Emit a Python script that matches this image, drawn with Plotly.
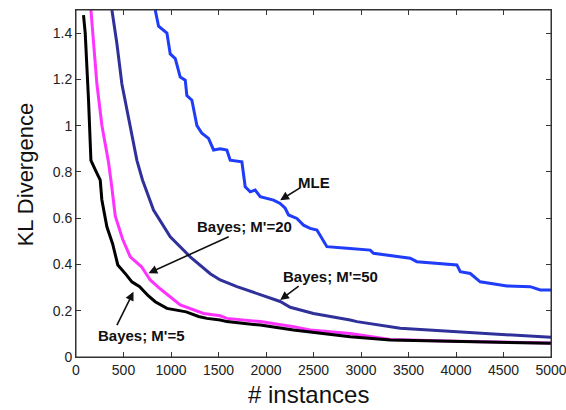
import plotly.graph_objects as go

# ---- data ----
mle_x = [834, 869, 957, 992, 1045, 1097, 1150, 1167, 1220, 1273, 1325, 1395, 1448, 1518, 1588,
         1623, 1746, 1781, 1834, 1886, 1939, 2079, 2149, 2202, 2237, 2325, 2395, 2465, 2536,
         2588, 2641, 2852, 3097, 3132, 3518, 3588, 4009, 4045, 4150, 4255, 4360, 4536, 4781,
         4887, 5000]
mle_y = [1.50, 1.43, 1.40, 1.31, 1.29, 1.21, 1.197, 1.13, 1.11, 1.00, 0.967, 0.945, 0.895, 0.90,
         0.895, 0.851, 0.844, 0.736, 0.714, 0.722, 0.693, 0.678, 0.664, 0.643, 0.614, 0.599,
         0.570, 0.556, 0.549, 0.513, 0.477, 0.470, 0.462, 0.448, 0.427, 0.412, 0.398, 0.369,
         0.361, 0.325, 0.318, 0.307, 0.304, 0.290, 0.290]

b50_x = [378, 430, 483, 553, 641, 700, 816, 992, 1202, 1413, 1518, 1694, 2009, 2149, 2255,
         2500, 2886, 2957, 3413, 4009, 4536, 5000]
b50_y = [1.50, 1.356, 1.18, 1.04, 0.85, 0.765, 0.635, 0.52, 0.433, 0.36, 0.333, 0.304, 0.26,
         0.24, 0.215, 0.188, 0.16, 0.153, 0.124, 0.110, 0.095, 0.085]

b20_x = [157, 220, 273, 343, 375, 413, 490, 571, 690, 781, 886, 992, 1097, 1343, 1518, 1588,
         1939, 2290, 2466, 2886, 3308, 4009, 4710, 5000]
b20_y = [1.50, 1.18, 1.00, 0.84, 0.74, 0.61, 0.51, 0.433, 0.39, 0.333, 0.295, 0.261, 0.225,
         0.188, 0.178, 0.167, 0.153, 0.131, 0.117, 0.102, 0.076, 0.068, 0.061, 0.061]

b5_x = [79, 97, 132, 157, 202, 255, 272, 325, 385, 440, 530, 588, 670, 760, 834, 957, 1160,
        1290, 1378, 1518, 1588, 1939, 2289, 2466, 2886, 3308, 4009, 4650, 4710, 5000]
b5_y = [1.478, 1.40, 1.11, 0.85, 0.81, 0.765, 0.68, 0.563, 0.49, 0.398, 0.355, 0.325, 0.304,
        0.265, 0.239, 0.21, 0.195, 0.175, 0.167, 0.160, 0.153, 0.138, 0.117, 0.109, 0.088,
        0.073, 0.066, 0.062, 0.059, 0.059]

x_ticks = [0, 500, 1000, 1500, 2000, 2500, 3000, 3500, 4000, 4500, 5000]
y_ticks = [0, 0.2, 0.4, 0.6, 0.8, 1.0, 1.2, 1.4]
y_tick_text = ["0", "0.2", "0.4", "0.6", "0.8", "1", "1.2", "1.4"]

FONT = "Liberation Sans, Arial, sans-serif"

fig = go.Figure()
fig.add_trace(go.Scatter(x=mle_x, y=mle_y, mode="lines", name="MLE",
                         line=dict(color="#1f3cf8", width=3)))
fig.add_trace(go.Scatter(x=b50_x, y=b50_y, mode="lines", name="Bayes; M'=50",
                         line=dict(color="#30309a", width=3)))
fig.add_trace(go.Scatter(x=b20_x, y=b20_y, mode="lines", name="Bayes; M'=20",
                         line=dict(color="#ff33ff", width=3)))
fig.add_trace(go.Scatter(x=b5_x, y=b5_y, mode="lines", name="Bayes; M'=5",
                         line=dict(color="#000000", width=3)))

# labels and arrows
labels = [
    # text, text_x, text_y, head_x, head_y, tail_x, tail_y
    ("MLE", 2507, 0.756, 2149, 0.678, 2378, 0.736),
    ("Bayes; M'=20", 1771, 0.564, 763, 0.362, 1623, 0.523),
    ("Bayes; M'=50", 2676, 0.350, 2149, 0.246, 2360, 0.311),
    ("Bayes; M'=5", 694, 0.091, 605, 0.282, 423, 0.131),
]
for txt, tx, ty, hx, hy, ax_, ay_ in labels:
    fig.add_annotation(x=tx, y=ty, text="<b>%s</b>" % txt, showarrow=False,
                       font=dict(family=FONT, size=15, color="#111111"))
    fig.add_annotation(x=hx, y=hy, ax=ax_, ay=ay_, axref="x", ayref="y", text="",
                       showarrow=True, arrowhead=2, arrowsize=1.1, arrowwidth=1.6,
                       arrowcolor="#111111")

# axis titles
fig.add_annotation(xref="paper", yref="paper", x=0.49, y=-0.108, text="# instances",
                   xanchor="center", yanchor="middle", showarrow=False,
                   font=dict(family=FONT, size=24, color="#111111"))
fig.add_annotation(xref="paper", yref="paper", x=-0.107, y=0.524, text="KL Divergence",
                   xanchor="center", yanchor="middle", textangle=-90, showarrow=False,
                   font=dict(family=FONT, size=22, color="#111111"))

# plot frame
fig.add_shape(type="rect", xref="paper", yref="paper", x0=0, y0=0, x1=1, y1=1,
              line=dict(color="#333333", width=1), layer="above")

fig.update_layout(
    width=566, height=410,
    margin=dict(l=76, r=15, t=10, b=53),
    paper_bgcolor="white", plot_bgcolor="white",
    showlegend=False,
    font=dict(family=FONT, size=14, color="#222222"),
)
fig.update_xaxes(range=[0, 5000], tickvals=x_ticks, ticks="inside", ticklen=5,
                 tickcolor="#333333", showline=True, linecolor="#333333", linewidth=1,
                 mirror="allticks", showgrid=False, zeroline=False, automargin=False,
                 tickfont=dict(size=14), ticklabeloverflow="allow")
fig.update_yaxes(range=[0, 1.5], tickvals=y_ticks, ticktext=y_tick_text, ticks="inside",
                 ticklen=5, tickcolor="#333333", showline=True, linecolor="#333333", linewidth=1,
                 mirror="allticks", showgrid=False, zeroline=False, automargin=False,
                 tickfont=dict(size=14))

fig.write_html("out.html", config={"displayModeBar": False},
               post_script="document.body.style.margin='0';")
